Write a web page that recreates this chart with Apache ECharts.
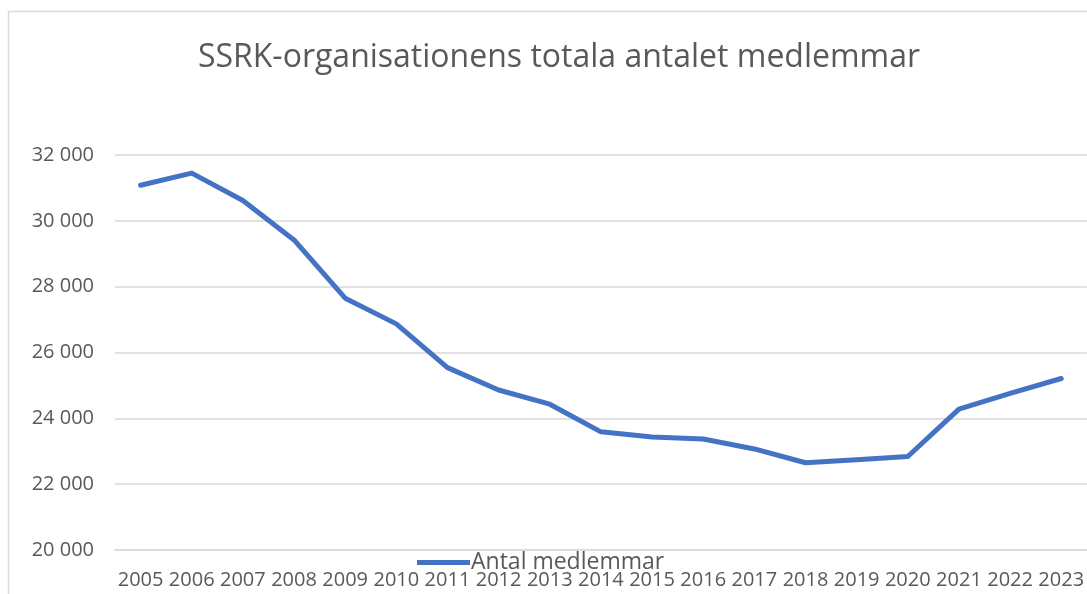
<!DOCTYPE html>
<html>
<head>
<meta charset="utf-8">
<script src="https://cdn.jsdelivr.net/npm/echarts@6/dist/echarts.min.js"></script>
<style>
  html, body { margin: 0; padding: 0; background: #fff; }
  #chart { width: 1087px; height: 594px; }
</style>
</head>
<body>
<div id="chart"></div>
<script>
// data
const years = ['2005', '2006', '2007', '2008', '2009', '2010', '2011', '2012', '2013', '2014',
  '2015', '2016', '2017', '2018', '2019', '2020', '2021', '2022', '2023'];
const members = [31080, 31450, 30620, 29420, 27650, 26870, 25540, 24860, 24430, 23590,
  23430, 23370, 23070, 22650, 22740, 22840, 24280, 24760, 25210];
const seriesName = 'Antal medlemmar';
const chartTitle = 'SSRK-organisationens totala antalet medlemmar';

const font = '"Open Sans", "Noto Sans", sans-serif';
const textColor = '#595959';

const chart = echarts.init(document.getElementById('chart'));
chart.setOption({
  animation: false,
  textStyle: { fontFamily: font },
  title: {
    text: chartTitle,
    left: 554,
    textAlign: 'center',
    top: 37,
    textStyle: { fontFamily: font, fontSize: 32, fontWeight: 'normal', color: textColor }
  },
  graphic: [{
    type: 'rect',
    shape: { x: 8.5, y: 11.5, width: 1200, height: 700 },
    style: { fill: 'none', stroke: '#d9d9d9', lineWidth: 1.5 },
    silent: true
  }],
  legend: {
    data: [seriesName],
    left: 412,
    top: 546,
    icon: 'rect',
    itemWidth: 53,
    itemHeight: 5,
    textStyle: { fontFamily: font, fontSize: 23, color: textColor, lineHeight: 23, padding: [0, 0, 0, -4] }
  },
  grid: { left: 115, right: -4, top: 155, bottom: 44, containLabel: false },
  xAxis: {
    type: 'category',
    data: years,
    boundaryGap: true,
    axisLine: { lineStyle: { color: '#d9d9d9', width: 1.5 } },
    axisTick: { show: false },
    axisLabel: { interval: 0, margin: 20, fontFamily: font, fontSize: 20, color: textColor }
  },
  yAxis: {
    type: 'value',
    min: 20000,
    max: 32000,
    interval: 2000,
    axisLine: { show: false },
    axisTick: { show: false },
    splitLine: { lineStyle: { color: '#d9d9d9', width: 1.5 } },
    axisLabel: {
      margin: 21,
      fontFamily: font,
      fontSize: 20,
      color: textColor,
      formatter: v => String(v).replace(/\B(?=(\d{3})+(?!\d))/g, ' ')
    }
  },
  series: [{
    name: seriesName,
    type: 'line',
    data: members,
    showSymbol: false,
    symbol: 'none',
    lineStyle: { color: '#4472C4', width: 5, cap: 'round', join: 'round' },
    itemStyle: { color: '#4472C4' }
  }]
});
</script>
</body>
</html>
